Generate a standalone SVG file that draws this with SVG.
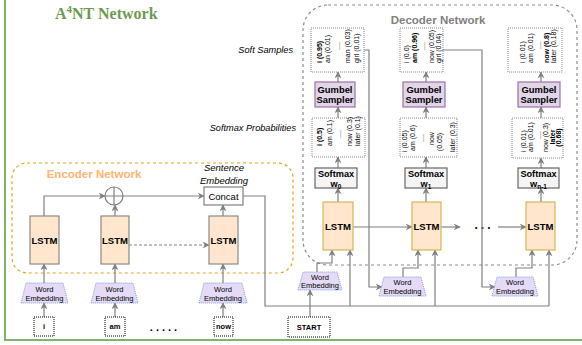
<svg xmlns="http://www.w3.org/2000/svg" width="582" height="345" viewBox="0 0 582 345">
<style>
text{font-family:"Liberation Sans",Arial,sans-serif;fill:#000}
.b{font-weight:bold}
.c{text-anchor:middle}
.sm{font-size:7px}
.lstm{fill:#ffe6cc;stroke:#d6b656;stroke-width:1.2}
.elstm{fill:#ffe6cc;stroke:#8a8a8a;stroke-width:1.2}
.gum{fill:#e1d5e7;stroke:#9673a6;stroke-width:1.2}
.sfx{fill:#f5f5f5;stroke:#666;stroke-width:1.2}
.dot{fill:#fff;stroke:#888;stroke-width:1;stroke-dasharray:1 1}
.wb{fill:#fff;stroke:#000;stroke-width:1;stroke-dasharray:1 1}
.we{fill:#e5dbf7;stroke:#7e9ee0;stroke-width:1;stroke-dasharray:1 1}
.ln{fill:none;stroke:#808080;stroke-width:1.2}
.ar{marker-end:url(#a)}
</style>
<defs>
<marker id="a" viewBox="0 0 10 10" refX="9" refY="5" markerWidth="7" markerHeight="7" orient="auto" markerUnits="userSpaceOnUse">
<path d="M0,0 L10,5 L0,10 L3,5 z" fill="#808080"/>
</marker>
</defs>
<rect x="5" y="-10" width="600" height="350" fill="#fff" stroke="#82b366" stroke-width="2"/>
<text x="55" y="19" style="font-family:'Liberation Serif','Times New Roman',serif;font-weight:bold;font-size:16px;fill:#6d9a4f">A<tspan dy="-6" font-size="11">4</tspan><tspan dy="6">NT Network</tspan></text>

<g id="encoder-network">
<rect x="12" y="163" width="281" height="110" rx="15" fill="none" stroke="#e3a51c" stroke-width="1.2" stroke-dasharray="3 3"/>
<text x="94" y="178" class="b c" style="font-size:11.5px;fill:#ffb570">Encoder Network</text>
</g>
<g id="decoder-network">
<rect x="303" y="5" width="274" height="260" rx="25" fill="none" stroke="#8c8c8c" stroke-width="1.2" stroke-dasharray="3 3"/>
<text x="438" y="24" class="b c" style="font-size:11.5px;fill:#808080">Decoder Network</text>
</g>

<g id="labels">
<text x="293" y="53" style="font-size:9.2px;font-style:italic;text-anchor:end">Soft Samples</text>
<text x="296" y="131" style="font-size:9.2px;font-style:italic;text-anchor:end">Softmax Probabilities</text>
<text x="224" y="171" class="c" style="font-size:9.5px;font-style:italic">Sentence</text>
<text x="224" y="184" class="c" style="font-size:9.5px;font-style:italic">Embedding</text>
<text x="165" y="331" class="b c" style="font-size:11px;letter-spacing:3px">.....</text>
<text x="484" y="229" class="b c" style="font-size:12px;letter-spacing:3px">...</text>
</g>

<g id="connectors">
<path class="ln ar" d="M44,317 V303"/>
<path class="ln ar" d="M115,317 V303"/>
<path class="ln ar" d="M223,317 V303"/>
<path class="ln ar" d="M44,283 V264"/>
<path class="ln ar" d="M115,283 V264"/>
<path class="ln ar" d="M223,283 V264"/>
<path class="ln ar" d="M44,216 V196 H105"/>
<path class="ln ar" d="M115,216 V205"/>
<path class="ln ar" d="M123,196 H204"/>
<path class="ln ar" d="M223,216 V205"/>
<path class="ln ar" d="M129,245 H209" stroke-dasharray="3 2"/>
<path class="ln" d="M243,196 H265 V306 H549"/>
<path class="ln ar" d="M350,306 V250"/>
<path class="ln ar" d="M435,306 V250"/>
<path class="ln ar" d="M549,306 V250"/>
<path class="ln ar" d="M310,317 V290"/>
<path class="ln ar" d="M317,272 V263 H332 V250"/>
<path class="ln ar" d="M403,277 V268 H418 V250"/>
<path class="ln ar" d="M516,277 V268 H532 V250"/>
<path class="ln ar" d="M364,50 H369 V287 H382"/>
<path class="ln ar" d="M443,50 H482 V287 H495"/>
<path class="ln ar" d="M353,227 H412"/>
<path class="ln ar" d="M441,227 H460"/>
<path class="ln ar" d="M498,227 H526"/>
<path class="ln ar" d="M338,202 V188"/>
<path class="ln ar" d="M426,202 V188"/>
<path class="ln ar" d="M541,202 V188"/>
<path class="ln ar" d="M338,168 V157"/>
<path class="ln ar" d="M426,168 V157"/>
<path class="ln ar" d="M541,168 V158"/>
<path class="ln ar" d="M338,118 V107"/>
<path class="ln ar" d="M426,118 V107"/>
<path class="ln ar" d="M541,118 V107"/>
<path class="ln ar" d="M338,82 V72"/>
<path class="ln ar" d="M426,82 V72"/>
<path class="ln ar" d="M541,82 V72"/>
</g>

<!-- encoder -->
<g id="enc-lstm-1"><rect class="elstm" x="30" y="216" width="29" height="48"/><text x="44.5" y="244" class="b c" style="font-size:9.5px">LSTM</text></g>
<g id="enc-lstm-2"><rect class="elstm" x="101" y="216" width="28" height="48"/><text x="115" y="244" class="b c" style="font-size:9.5px">LSTM</text></g>
<g id="enc-lstm-3"><rect class="elstm" x="209" y="216" width="29" height="48"/><text x="223.5" y="244" class="b c" style="font-size:9.5px">LSTM</text></g>
<g id="sum"><circle cx="114" cy="196" r="9" fill="#fff" stroke="#808080" stroke-width="1.2"/><path d="M105,196 H123 M114,187 V205" stroke="#808080" stroke-width="1.2"/></g>
<g id="concat"><rect x="204" y="187" width="39" height="18" fill="#fff" stroke="#808080" stroke-width="1.2"/><text x="223.5" y="199.5" class="c" style="font-size:9.5px">Concat</text></g>
<g id="enc-we-1"><polygon class="we" points="21,303 26,283 63,283 68,303"/><text x="44.5" y="292" class="c" style="font-size:7.5px">Word</text><text x="44.5" y="300.5" class="c" style="font-size:7.5px">Embedding</text></g>
<g id="enc-we-2"><polygon class="we" points="91,303 96,283 133,283 138,303"/><text x="114.5" y="292" class="c" style="font-size:7.5px">Word</text><text x="114.5" y="300.5" class="c" style="font-size:7.5px">Embedding</text></g>
<g id="enc-we-3"><polygon class="we" points="199,303 204,283 242,283 247,303"/><text x="223" y="292" class="c" style="font-size:7.5px">Word</text><text x="223" y="300.5" class="c" style="font-size:7.5px">Embedding</text></g>
<g id="word-i"><rect class="wb" x="34" y="317" width="20" height="19"/><text x="44" y="329" class="b c" style="font-size:7.5px">i</text></g>
<g id="word-am"><rect class="wb" x="105" y="317" width="20" height="19"/><text x="115" y="329" class="b c" style="font-size:7.5px">am</text></g>
<g id="word-now"><rect class="wb" x="214" y="317" width="19" height="19"/><text x="223.5" y="329" class="b c" style="font-size:7.5px">now</text></g>

<!-- decoder -->
<g id="start"><rect class="wb" x="288" y="317" width="42" height="20"/><text x="309" y="330" class="b c" style="font-size:7.5px">START</text></g>
<g id="dec-we-1"><polygon class="we" points="298,290 303,272 337,272 342,290"/><text x="320" y="280" class="c" style="font-size:7.5px">Word</text><text x="320" y="288" class="c" style="font-size:7.5px">Embedding</text></g>
<g id="dec-we-2"><polygon class="we" points="379,296 384,277 421,277 426,296"/><text x="402.5" y="285" class="c" style="font-size:7.5px">Word</text><text x="402.5" y="293.5" class="c" style="font-size:7.5px">Embedding</text></g>
<g id="dec-we-3"><polygon class="we" points="492,296 497,277 533,277 538,296"/><text x="515" y="285" class="c" style="font-size:7.5px">Word</text><text x="515" y="293.5" class="c" style="font-size:7.5px">Embedding</text></g>

<g id="dec-lstm-1"><rect class="lstm" x="323" y="202" width="30" height="48"/><text x="338" y="230" class="b c" style="font-size:9.5px">LSTM</text></g>
<g id="dec-lstm-2"><rect class="lstm" x="412" y="202" width="29" height="48"/><text x="426.5" y="230" class="b c" style="font-size:9.5px">LSTM</text></g>
<g id="dec-lstm-3"><rect class="lstm" x="526" y="202" width="29" height="48"/><text x="540.5" y="230" class="b c" style="font-size:9.5px">LSTM</text></g>

<g id="softmax-0"><rect class="sfx" x="315" y="168" width="42" height="20"/><text x="336" y="177" class="b c" style="font-size:9.2px">Softmax</text><text x="336" y="186.5" class="b c" style="font-size:9.2px">w<tspan dy="2" font-size="6.5">0</tspan></text></g>
<g id="softmax-1"><rect class="sfx" x="405" y="168" width="42" height="20"/><text x="426" y="177" class="b c" style="font-size:9.2px">Softmax</text><text x="426" y="186.5" class="b c" style="font-size:9.2px">w<tspan dy="2" font-size="6.5">1</tspan></text></g>
<g id="softmax-n1"><rect class="sfx" x="518" y="168" width="41" height="20"/><text x="538.5" y="177" class="b c" style="font-size:9.2px">Softmax</text><text x="538.5" y="186.5" class="b c" style="font-size:9.2px">w<tspan dy="2" font-size="6.5">n-1</tspan></text></g>

<g id="probs-0"><rect class="dot" x="312" y="118" width="53" height="39"/>
<text class="sm b" transform="translate(321.5,146) rotate(-90)">i (0.5)</text>
<text class="sm" transform="translate(331.5,146) rotate(-90)">am (0.1)</text>
<text class="sm c" transform="translate(341,134) rotate(-90)">....</text>
<text class="sm" transform="translate(351.5,146) rotate(-90)">now (0.3)</text>
<text class="sm" transform="translate(359.5,146) rotate(-90)">later (0.1)</text>
</g>
<g id="probs-1"><rect class="dot" x="400" y="118" width="57" height="39"/>
<text class="sm" transform="translate(406.5,152) rotate(-90)">i (0.05)</text>
<text class="sm" transform="translate(414.5,151) rotate(-90)">am (0.6)</text>
<text class="sm c" transform="translate(423.5,138) rotate(-90)">....</text>
<text class="sm c" transform="translate(433.5,138.5) rotate(-90)">now</text>
<text class="sm c" transform="translate(441.5,142) rotate(-90)">(0.05)</text>
<text class="sm" transform="translate(454.5,152) rotate(-90)">later (0.3)</text>
</g>
<g id="probs-n1"><rect class="dot" x="512" y="118" width="51" height="40"/>
<text class="sm" transform="translate(525.5,152) rotate(-90)">i (0.01)</text>
<text class="sm" transform="translate(532.5,152) rotate(-90)">am (0.01)</text>
<text class="sm c" transform="translate(540.5,135) rotate(-90)">....</text>
<text class="sm" transform="translate(547.5,152) rotate(-90)">now (0.3)</text>
<text class="sm c b" transform="translate(554.5,137) rotate(-90)">later</text>
<text class="sm c b" transform="translate(560.5,137.5) rotate(-90)">(0.68)</text>
</g>

<g id="gumbel-0"><rect class="gum" x="315" y="82" width="40" height="25"/><text x="335" y="92.5" class="b c" style="font-size:9.4px">Gumbel</text><text x="335" y="103" class="b c" style="font-size:9.4px">Sampler</text></g>
<g id="gumbel-1"><rect class="gum" x="403" y="82" width="42" height="25"/><text x="424" y="92.5" class="b c" style="font-size:9.4px">Gumbel</text><text x="424" y="103" class="b c" style="font-size:9.4px">Sampler</text></g>
<g id="gumbel-n1"><rect class="gum" x="518" y="82" width="42" height="25"/><text x="539" y="92.5" class="b c" style="font-size:9.4px">Gumbel</text><text x="539" y="103" class="b c" style="font-size:9.4px">Sampler</text></g>

<g id="soft-0"><rect class="dot" x="311" y="28" width="53" height="44"/>
<text class="sm b" transform="translate(321.5,63) rotate(-90)">i (0.95)</text>
<text class="sm" transform="translate(329.5,63) rotate(-90)">an (0.01)</text>
<text class="sm c" transform="translate(339.5,46) rotate(-90)">....</text>
<text class="sm" transform="translate(349.5,63) rotate(-90)">man (0.03)</text>
<text class="sm" transform="translate(358.5,63) rotate(-90)">girl (0.01)</text>
</g>
<g id="soft-1"><rect class="dot" x="400" y="28" width="43" height="44"/>
<text class="sm" transform="translate(409,63) rotate(-90)">i (0.0)</text>
<text class="sm b" transform="translate(416.5,63) rotate(-90)">am (0.96)</text>
<text class="sm c" transform="translate(425,46) rotate(-90)">....</text>
<text class="sm" transform="translate(433.5,63) rotate(-90)">now (0.05)</text>
<text class="sm" transform="translate(440.5,63) rotate(-90)">girl (0.04)</text>
</g>
<g id="soft-n1"><rect class="dot" x="508" y="28" width="54" height="44"/>
<text class="sm" transform="translate(524.5,63) rotate(-90)">i (0.01)</text>
<text class="sm" transform="translate(532.5,63) rotate(-90)">am (0.01)</text>
<text class="sm c" transform="translate(540.5,45) rotate(-90)">....</text>
<text class="sm b" transform="translate(548.5,63) rotate(-90)">now (0.8)</text>
<text class="sm" transform="translate(555.5,63) rotate(-90)">later (0.18)</text>
</g>
</svg>
